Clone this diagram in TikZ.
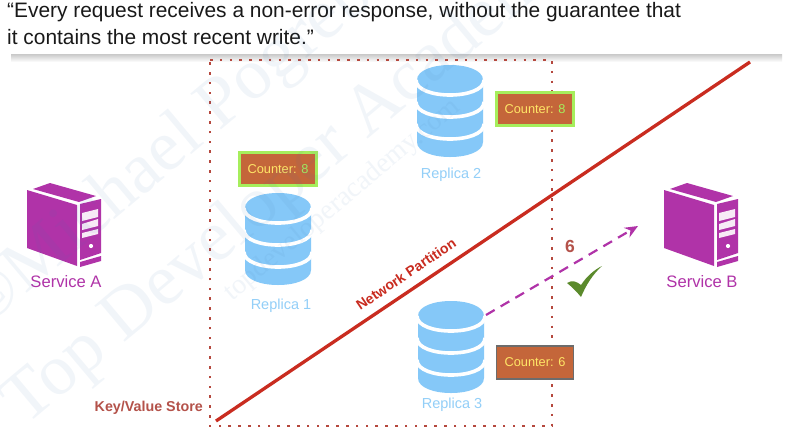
\documentclass[tikz,border=0pt]{standalone}
\usepackage{fontspec}
\setmainfont{Liberation Sans}
\newfontfamily\wmfont{Liberation Serif}
\usetikzlibrary{arrows.meta}
\definecolor{dbblue}{HTML}{85C8F8}
\definecolor{lblblue}{HTML}{93CFF8}
\definecolor{svcpurple}{HTML}{B033A8}
\definecolor{dotbrown}{HTML}{B5483E}
\definecolor{partred}{HTML}{C92C20}
\definecolor{boxfill}{HTML}{C4663A}
\definecolor{boxgreen}{HTML}{A6EE5C}
\definecolor{boxyellow}{HTML}{FFE566}
\definecolor{keybrown}{HTML}{B4524A}
\definecolor{checkgreen}{HTML}{5B8A2C}
\definecolor{wmark}{HTML}{3F74B0}
\tikzset{
  x=1pt,y=-1pt,
  dbicon/.pic={
    \fill[dbblue] (-33,-31) .. controls (-33,-51) and (33,-51) .. (33,-31)
      -- (33,31) .. controls (33,51) and (-33,51) .. (-33,31) -- cycle;
    \foreach \yy in {-31,-9,13}{
      \draw[white,line width=3.6pt] (-34,\yy) .. controls (-34,\yy+20) and (34,\yy+20) .. (34,\yy);
    }
  },
  srvicon/.pic={
    \fill[svcpurple] (0,7) -- (50,22) -- (50,83) -- (0,65) -- cycle;
    \fill[svcpurple] (6,6) -- (23,0) -- (69,13) -- (52,19) -- cycle;
    \fill[svcpurple] (53,21) -- (74,16) -- (74,70) -- (53,77) -- cycle;
    \fill[svcpurple] (53,79) -- (74,73) -- (74,78) -- (53,84) -- cycle;
    \fill[white!90!svcpurple] (55,30) -- (71,26) -- (71,34) -- (55,38) -- cycle;
    \fill[white!90!svcpurple] (55,41) -- (71,36) -- (71,43) -- (55,47) -- cycle;
    \fill[white!90!svcpurple] (55,50) -- (71,46) -- (71,51) -- (55,55) -- cycle;
    \fill[white] (64,63) circle[radius=2.1];
  },
  countbox/.style={fill=boxfill,minimum width=77,minimum height=33,inner sep=0pt,
    font=\fontsize{12.8}{14}\selectfont,text=boxyellow,line width=2.2pt},
  newbox/.style={countbox,draw=boxgreen},
  oldbox/.style={countbox,draw=gray!85!black,line width=1.2pt},
  dblabel/.style={text=lblblue,font=\fontsize{14.5}{16}\selectfont,inner sep=0pt},
  srvlabel/.style={text=svcpurple,font=\fontsize{16.6}{18}\selectfont,inner sep=0pt},
  dotline/.style={draw=dotbrown,line width=2.8pt,dash pattern=on 2.6pt off 7.2pt},
  wm/.style={text=wmark,text opacity=0.07,inner sep=0pt,anchor=base west,rotate=40},
  quotetext/.style={anchor=base west,inner sep=0pt,font=\fontsize{20.9}{24}\selectfont,text=black!90},
}
\begin{document}
\begin{tikzpicture}
\useasboundingbox (0,0) rectangle (792,432);
\fill[white] (0,0) rectangle (792,432);
% quote
\node[quotetext] (quote1) at (7,17) {“Every request receives a non-error response, without the guarantee that};
\node[quotetext] (quote2) at (7,44) {it contains the most recent write.”};
\shade[top color=black!20,bottom color=white] (11,54.5) rectangle (782,62);
% key/value store boundary
\coordinate (kvnw) at (210,60);
\coordinate (kvne) at (552,60);
\coordinate (kvse) at (552,426);
\coordinate (kvsw) at (210,426);
\draw[dotline] (kvnw) -- (kvne) -- (kvse) -- (kvsw) -- cycle;
\node[anchor=east,inner sep=0pt,text=keybrown,font=\bfseries\fontsize{14.3}{16}\selectfont] (kvlabel) at (203,408) {Key/Value Store};
% partition
\coordinate (parta) at (216,421);
\coordinate (partb) at (750,62);
\draw[partred,line width=3.3pt] (parta) -- (partb);
\node[rotate=34,inner sep=0pt,text=partred,font=\bfseries\fontsize{14.1}{16}\selectfont] (partlabel) at (406,274) {Network Partition};
% services
\pic at (27,183) {srvicon};
\node[srvlabel] (svca) at (66,282) {Service A};
\pic at (664,183) {srvicon};
\node[srvlabel] (svcb) at (702,282) {Service B};
% replicas
\pic at (278,239) {dbicon};
\pic at (450,111) {dbicon};
\pic at (451,347) {dbicon};
\node[dblabel] (rep1) at (281,306) {Replica 1};
\node[dblabel] (rep2) at (451,175) {Replica 2};
\node[dblabel] (rep3) at (452,405) {Replica 3};
% counters
\node[newbox] (c1) at (278,169) {Counter: \textcolor{boxgreen}{8}};
\node[newbox] (c2) at (535,109) {Counter: \textcolor{boxgreen}{8}};
\node[oldbox] (c3) at (535,362.5) {Counter: 6};
% read response
\coordinate (rep3port) at (486,315);
\coordinate (svcbport) at (638,226);
\draw[svcpurple,line width=2.2pt,dash pattern=on 10pt off 7pt,-{Stealth[length=13pt,width=11pt]}] (rep3port) -- (svcbport);
\node[inner sep=0pt,text=keybrown,font=\bfseries\fontsize{17.5}{18}\selectfont] (six) at (570,246) {6};
\fill[checkgreen] (567,283) .. controls (572,280) and (576,281) .. (581,285) .. controls (587,276) and (594,270) .. (602,266) .. controls (593,274) and (586,285) .. (581,297) .. controls (577,292) and (572,287) .. (567,283) -- cycle;
% watermark
\begin{scope}
\clip (0,0) rectangle (792,432);
\node[wm,font=\wmfont\fontsize{72}{74}\selectfont] (wm1) at (-17,330) {©Michael Pogrebinsky};
\node[wm,font=\wmfont\fontsize{72}{74}\selectfont] (wm2) at (25,427) {Top Developer Academy};
\node[wm,font=\wmfont\fontsize{28}{30}\selectfont] (wm3) at (232,302) {topdeveloperacademy.com};
\end{scope}
\end{tikzpicture}
\end{document}
